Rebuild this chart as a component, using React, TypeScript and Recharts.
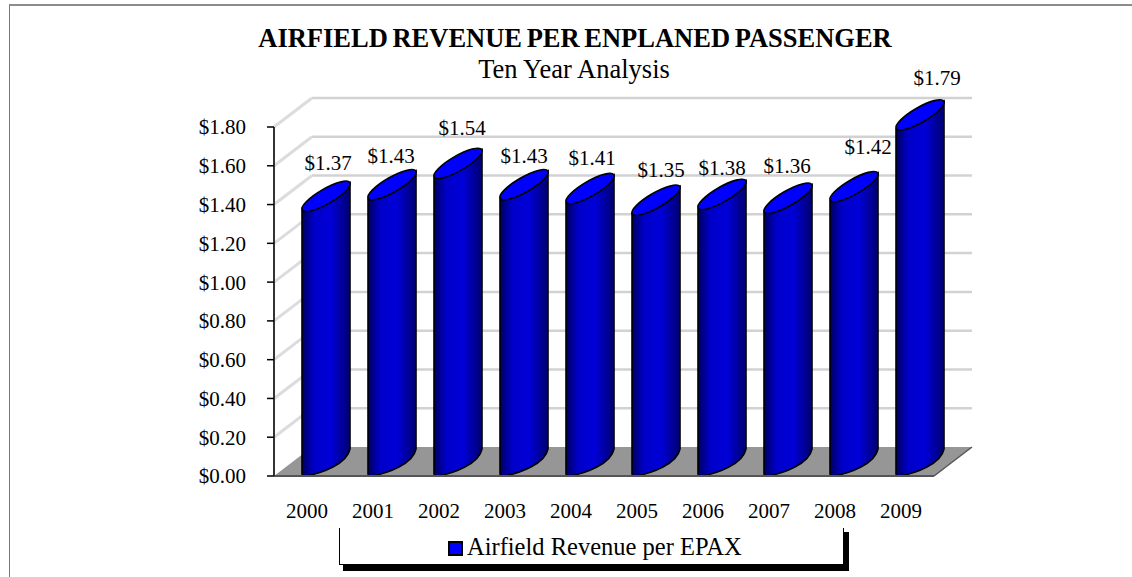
import React from 'react'
import { BarChart, Bar, XAxis, YAxis, CartesianGrid, Legend, LabelList } from 'recharts'

const years = ['2000', '2001', '2002', '2003', '2004', '2005', '2006', '2007', '2008', '2009']
const revenuePerEpax = [1.37, 1.43, 1.54, 1.43, 1.41, 1.35, 1.38, 1.36, 1.42, 1.79]
const yTicks = [0, 0.2, 0.4, 0.6, 0.8, 1.0, 1.2, 1.4, 1.6, 1.8]

// hand placed value labels, offset from the top of each cylinder
const labelDx = [2, -1, 4, 0, 2, 5, 0, -1, 14, 17]
const labelDy = [-47, -43, -49, -43, -45, -44, -40, -46, -54, -51]

const data = years.map((year, i) => ({ year, value: revenuePerEpax[i] }))

const FONT = '"Liberation Serif", "Times New Roman", serif'
const DEPTH_X = 38
const DEPTH_Y = 29
const BAR_SHIFT = 19

const money = (v: number) => '$' + v.toFixed(2)

const WallLine = (props: any) => {
  const { x1, x2, y1, y2, index } = props
  const isFloor = Math.abs(y1 - 476) < 2
  return (
    <g key={index}>
      {isFloor && (
        <polygon
          points={`${x1},${y1} ${x1 + DEPTH_X},${y1 - DEPTH_Y} ${x2 + DEPTH_X},${y2 - DEPTH_Y} ${x2},${y2}`}
          fill="#969696"
        />
      )}
      {!isFloor && (
        <line x1={x1 + DEPTH_X} y1={y1 - DEPTH_Y} x2={x2 + DEPTH_X} y2={y2 - DEPTH_Y} stroke="#d2d2d2" strokeWidth={2.5} />
      )}
      {isFloor ? (
        <line x1={x2} y1={y2} x2={x2 + DEPTH_X} y2={y2 - DEPTH_Y} stroke="#555" strokeWidth={1.5} />
      ) : (
        <line x1={x1} y1={y1} x2={x1 + DEPTH_X} y2={y1 - DEPTH_Y} stroke="#dcdcdc" strokeWidth={3} />
      )}
    </g>
  )
}

const Cylinder = (props: any) => {
  const { x, y, width, height } = props
  const left = x + BAR_SHIFT
  const right = left + width
  const base = y + height
  const body = `M${left},${y} L${left},${base - 2} Q${left},${base} ${left + 4},${base}
    C${left + 20},${base - 3} ${right - 3},${base - 12} ${right},${base - 27}
    L${right},${y - 28} Z`
  return (
    <g>
      <path d={body} fill="url(#cylinderBody)" stroke="#000" strokeWidth={1.6} />
      <ellipse
        cx={left + width / 2}
        cy={y - 14}
        rx={27.5}
        ry={7.5}
        transform={`rotate(-30 ${left + width / 2} ${y - 14})`}
        fill="#0000ff"
        stroke="#000"
        strokeWidth={1.6}
      />
    </g>
  )
}

const ValueLabel = (props: any) => {
  const { x, y, width, index, value } = props
  return (
    <text
      x={x + BAR_SHIFT + width / 2 + labelDx[index]}
      y={y + labelDy[index]}
      textAnchor="middle"
      dominantBaseline="central"
      fontFamily={FONT}
      fontSize={21}
      fill="#000"
    >
      {money(value)}
    </text>
  )
}

const LegendBox = () => (
  <div style={{ position: 'relative', width: 510, height: 44, fontFamily: FONT }}>
    <div
      style={{
        position: 'absolute',
        left: 0,
        top: 0,
        width: 503,
        height: 36,
        borderLeft: '1px solid #000',
        borderBottom: '1px solid #000',
        borderRight: '1px solid #000',
        background: '#fff',
      }}
    />
    <div style={{ position: 'absolute', left: 504, top: 4, width: 6, height: 39, background: '#000' }} />
    <div style={{ position: 'absolute', left: 4, top: 37, width: 506, height: 6, background: '#000' }} />
    <div
      style={{
        position: 'absolute',
        left: 109,
        top: 13,
        width: 11,
        height: 11,
        background: '#0000ff',
        border: '2px solid #000',
      }}
    />
    <div style={{ position: 'absolute', left: 128, top: 5, fontSize: 24.5, lineHeight: '28px', whiteSpace: 'nowrap' }}>
      Airfield Revenue per EPAX
    </div>
  </div>
)

export default function App() {
  return (
    <div style={{ position: 'absolute', left: 0, top: 0, width: 1132, height: 577, background: '#fff', overflow: 'hidden' }}>
      <div style={{ position: 'absolute', left: 9, top: 4, right: 0, bottom: 0, borderTop: '2px solid #8c8c8c', borderLeft: '1px solid #777' }} />
      <BarChart
        width={1132}
        height={577}
        data={data}
        margin={{ top: 127, right: 198, bottom: 61, left: 214 }}
        style={{ position: 'absolute', left: 0, top: 0 }}
      >
        <defs>
          <linearGradient id="cylinderBody" x1="0" y1="0" x2="1" y2="0">
            <stop offset="0" stopColor="#000060" />
            <stop offset="0.25" stopColor="#0000c8" />
            <stop offset="0.6" stopColor="#0000d8" />
            <stop offset="1" stopColor="#000070" />
          </linearGradient>
        </defs>
        <text x={575} y={47} textAnchor="middle" fontFamily={FONT} fontWeight="bold" fontSize={26.5} wordSpacing={-2} fill="#000">
          AIRFIELD REVENUE PER ENPLANED PASSENGER
        </text>
        <text x={574} y={78} textAnchor="middle" fontFamily={FONT} fontSize={26.5} fill="#000">
          Ten Year Analysis
        </text>
        <CartesianGrid vertical={false} horizontal={WallLine as any} />
        <XAxis
          dataKey="year"
          height={40}
          tickLine={false}
          tickMargin={21}
          axisLine={{ stroke: '#555', strokeWidth: 2 }}
          tick={{ fontFamily: FONT, fontSize: 21, fill: '#000' }}
          interval={0}
        />
        <YAxis
          width={60}
          domain={[0, 1.8]}
          ticks={yTicks}
          tickFormatter={money}
          tickSize={7}
          tickMargin={21}
          axisLine={{ stroke: '#333', strokeWidth: 2 }}
          tickLine={{ stroke: '#000', strokeWidth: 1.5 }}
          tick={{ fontFamily: FONT, fontSize: 21, fill: '#000' }}
        />
        <Legend
          layout="horizontal"
          verticalAlign="middle"
          content={<LegendBox />}
          wrapperStyle={{ position: 'absolute', left: 339, top: 528, width: 510, height: 44 }}
        />
        <Bar
          dataKey="value"
          name="Airfield Revenue per EPAX"
          barSize={48}
          fill="#0000ff"
          shape={<Cylinder />}
          isAnimationActive={false}
        >
          <LabelList dataKey="value" content={<ValueLabel />} />
        </Bar>
      </BarChart>
    </div>
  )
}
